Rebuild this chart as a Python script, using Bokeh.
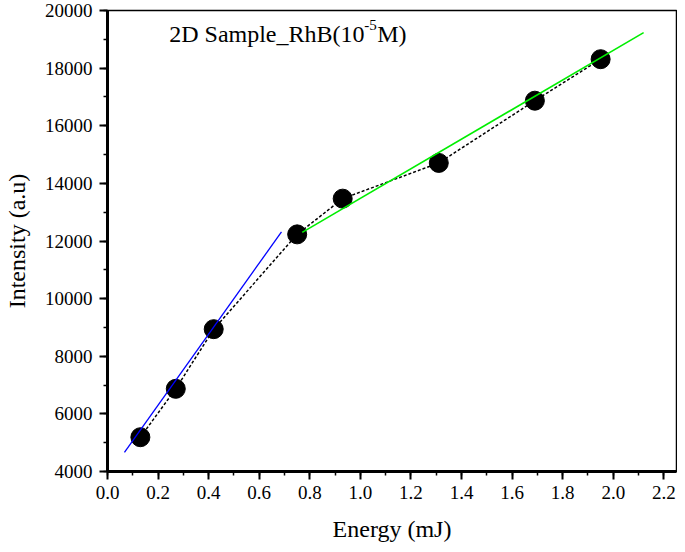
from bokeh.plotting import figure
from bokeh.models import Label, SingleIntervalTicker, NumeralTickFormatter, Range1d
from bokeh.embed import file_html
from bokeh.resources import INLINE
import numpy as np

# ---- data ----
energy = [0.13, 0.27, 0.42, 0.75, 0.93, 1.31, 1.69, 1.95]
intensity = [5190, 6870, 8940, 12230, 13470, 14710, 16870, 18310]

low_fit_range = [0.067, 0.688]
low_fit_coef = [3834, 12330]     # intercept, slope
high_fit_range = [0.77, 2.12]
high_fit_coef = [8345, 5136]     # intercept, slope

title_main = "2D Sample_RhB(10"
title_sup = "-5"
title_end = "M)"
x_label = "Energy (mJ)"
y_label = "Intensity (a.u)"

FONT = "'Liberation Serif', 'Times New Roman', serif"

p = figure(width=677, height=544, output_backend="svg", toolbar_location=None,
           x_range=Range1d(0, 2.25), y_range=Range1d(4000, 20000),
           min_border_left=5, min_border_top=10, min_border_right=1, min_border_bottom=0)
p.background_fill_color = "white"
p.border_fill_color = "white"
p.grid.visible = False
p.outline_line_color = "black"
p.outline_line_width = 1.5

for ax in (p.xaxis[0], p.yaxis[0]):
    ax.axis_line_width = 3
    ax.axis_line_color = "black"
    ax.major_tick_line_width = 2
    ax.minor_tick_line_width = 1.5
    ax.major_tick_line_color = "black"
    ax.minor_tick_line_color = "black"
    ax.major_tick_out = 8
    ax.major_tick_in = 0
    ax.minor_tick_out = 4
    ax.minor_tick_in = 0
    ax.major_label_text_font = FONT
    ax.major_label_text_font_size = "19px"
    ax.major_label_text_color = "black"
    ax.axis_label_text_font = FONT
    ax.axis_label_text_font_size = "24px"
    ax.axis_label_text_font_style = "normal"
    ax.axis_label_text_color = "black"

p.xaxis.ticker = SingleIntervalTicker(interval=0.2, num_minor_ticks=2)
p.yaxis.ticker = SingleIntervalTicker(interval=2000, num_minor_ticks=2)
p.xaxis.formatter = NumeralTickFormatter(format="0.0")
p.yaxis.formatter = NumeralTickFormatter(format="0")
p.xaxis.axis_label = x_label
p.yaxis.axis_label = y_label
p.xaxis.major_label_standoff = 6
p.yaxis.major_label_standoff = 7
p.xaxis.axis_label_standoff = 14
p.yaxis.axis_label_standoff = 12

# dotted connecting line
p.line(energy, intensity, line_color="black", line_width=1.5, line_dash="3 2")
# data points
p.scatter(energy, intensity, size=19, fill_color="black", line_color="black")

# linear fits
lx = np.array(low_fit_range)
p.line(lx, low_fit_coef[0] + low_fit_coef[1] * lx, line_color="#0000ff", line_width=1.3)
hx = np.array(high_fit_range)
p.line(hx, high_fit_coef[0] + high_fit_coef[1] * hx, line_color="#00ee00", line_width=1.6)

# title with superscript
tx, ty = 0.244, 19176
p.add_layout(Label(x=tx, y=ty, text=title_main, text_font=FONT, text_font_size="24px",
                   text_color="black", text_baseline="alphabetic"))
p.add_layout(Label(x=tx, y=ty + 330, x_offset=195, text=title_sup, text_font=FONT,
                   text_font_size="15px", text_color="black", text_baseline="alphabetic"))
p.add_layout(Label(x=tx, y=ty, x_offset=208, text=title_end, text_font=FONT,
                   text_font_size="24px", text_color="black", text_baseline="alphabetic"))

open("out.html", "w").write(file_html(p, INLINE))
